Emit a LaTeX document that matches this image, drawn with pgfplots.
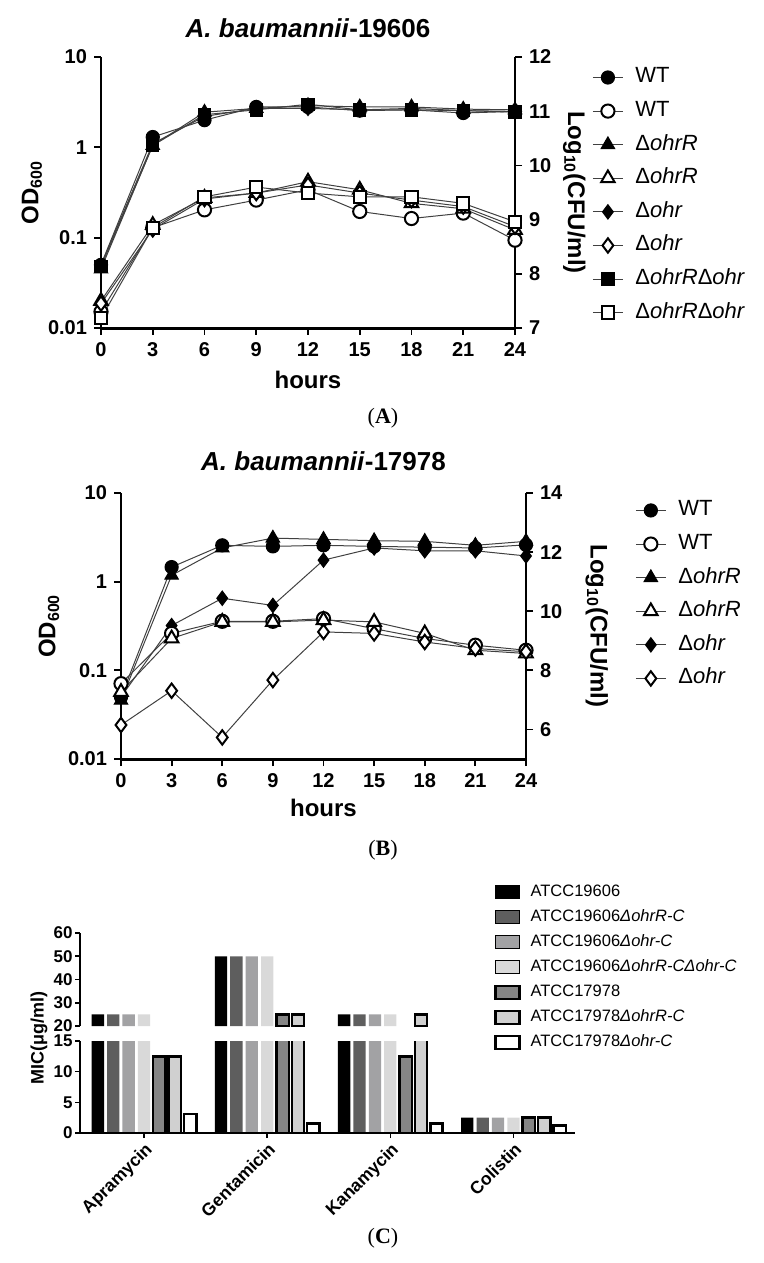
\documentclass[border=0pt]{standalone}
\usepackage{fontspec}
\setmainfont{Liberation Sans}
\newfontfamily\seriffont{Liberation Serif}
\usepackage{pgfplots}
\usepackage{pgfplotstable}
\pgfplotsset{compat=1.18}

\definecolor{barB}{HTML}{5E5E5E}
\definecolor{barC}{HTML}{A2A2A4}
\definecolor{barD}{HTML}{D9D9D9}
\definecolor{barE}{HTML}{858585}
\definecolor{barF}{HTML}{D0D0D0}
\definecolor{curve}{HTML}{404040}

\newcommand{\tickfont}{\fontsize{10}{12}\selectfont\bfseries}
\newcommand{\labfont}{\fontsize{12}{14}\selectfont\bfseries}
\newcommand{\legfont}{\fontsize{11}{13}\selectfont}

\pgfplotsset{
  growth/.style={
    scale only axis, clip=false,
    xmin=0, xmax=24,
    tick align=outside, major tick length=3.5pt,
    tick style={black, line width=0.9pt},
    axis line style={-},
    tick label style={font=\tickfont},
    xticklabel style={text height=7.3pt, text depth=0pt},
    /pgf/number format/assume math mode=true,
    label style={font=\labfont},
    every axis title/.style={anchor=center, font=\fontsize{13}{15}\selectfont\bfseries},
  },
  fm/.style={curve, line width=0.5pt, mark size=3.3pt, mark options={solid, fill=black, draw=black}},
  om/.style={curve, line width=0.5pt, mark size=3.3pt, mark options={solid, fill=white, draw=black, line width=1pt}},
  linelegend/.style={legend image code/.code={\draw[mark repeat=2,mark phase=2,##1] plot coordinates {(0pt,0pt) (7.5pt,0pt) (15pt,0pt)};}},
  barlegend/.style={legend image code/.code={\draw[##1] (0pt,-3.25pt) rectangle (12pt,3.25pt);}},
  growthlegend/.style={
    linelegend,
    legend style={draw=none, fill=none, anchor=north west, inner sep=0pt,
      font=\legfont, row sep=4.3pt, column sep=5pt,
      nodes={inner sep=1pt, text height=8pt, text depth=2.5pt}},
    legend cell align=left,
  },
  micaxis/.style={
    scale only axis, width=247.5pt,
    xmin=-0.52, xmax=3.5,
    ybar, bar width=0.1,
    axis on top,
    tick align=outside, major tick length=2.5pt,
    tick style={black, line width=0.8pt},
    axis line style={-},
    tick label style={font=\fontsize{8.5}{10}\selectfont\bfseries},
    yticklabel style={inner sep=1pt},
    /pgf/number format/assume math mode=true,
  },
  cA/.style={fill=black, draw=none, bar shift=-0.375},
  cB/.style={fill=barB, draw=none, bar shift=-0.25},
  cC/.style={fill=barC, draw=none, bar shift=-0.125},
  cD/.style={fill=barD, draw=none, bar shift=0},
  cE/.style={fill=barE, draw=black, line width=1.2pt, bar shift=0.125},
  cF/.style={fill=barF, draw=black, line width=1.2pt, bar shift=0.25},
  cG/.style={fill=white, draw=black, line width=1.2pt, bar shift=0.375},
}

% MIC values (ug/ml), one column per strain
\pgfplotstableread{
x  s1   s2   s3   s4   s5    s6    s7
0  25   25   25   25   12.5  12.5  3.125
1  50   50   50   50   25    25    1.5625
2  25   25   25   25   12.5  25    1.5625
3  2.5  2.5  2.5  2.5  2.5   2.5   1.25
}\mic

\begin{document}
\begin{tikzpicture}
\useasboundingbox (0pt,0pt) rectangle (382pt,-631.5pt);

% ---------------- (A) 19606 ----------------
\begin{axis}[growth,
  at={(50.5pt,-164pt)}, anchor=south west, width=207pt, height=135.5pt,
  ymode=log, ymin=0.01, ymax=10,
  ytick={0.01,0.1,1,10}, yticklabels={0.01,0.1,1,10}, yminorticks=false,
  xtick={0,3,...,24},
  axis x line*=bottom, axis y line*=left,
  x axis line style={line width=1.5pt}, y axis line style={line width=0.9pt},
  title={\textit{A. baumannii}-19606},
  title style={at={(axis description cs:0.5,1.105)}},
  xlabel={hours}, xlabel style={at={(axis description cs:0.5,-0.19)}, anchor=center},
  ylabel={OD\textsubscript{600}}, ylabel style={at={(axis description cs:-0.167,0.5)}, anchor=center},
]
\addplot[fm, mark=*] coordinates {(0,0.05) (3,1.3) (6,2.0) (9,2.8) (12,2.8) (15,2.55) (18,2.6) (21,2.4) (24,2.5)};
\addplot[fm, mark=triangle*, mark size=3.9pt] coordinates {(0,0.045) (3,1.05) (6,2.45) (9,2.7) (12,2.9) (15,2.8) (18,2.8) (21,2.65) (24,2.6)};
\addplot[fm, mark=diamond*, mark size=3.6pt] coordinates {(0,0.05) (3,1.1) (6,2.2) (9,2.7) (12,2.7) (15,2.6) (18,2.7) (21,2.55) (24,2.5)};
\addplot[fm, mark=square*, mark size=3.1pt] coordinates {(0,0.048) (3,1.05) (6,2.3) (9,2.6) (12,3.0) (15,2.6) (18,2.6) (21,2.55) (24,2.45)};
\end{axis}
\begin{axis}[growth, growthlegend,
  at={(50.5pt,-164pt)}, anchor=south west, width=207pt, height=135.5pt,
  ymin=7, ymax=12, ytick={7,8,...,12},
  axis x line=none, axis y line*=right,
  y axis line style={line width=0.9pt},
  ylabel={Log\textsubscript{10}(CFU/ml)},
  ylabel style={at={(axis description cs:1.143,0.5)}, anchor=center, rotate=180},
  legend style={at={(axis description cs:1.186,0.972)}},
]
\addplot[om, mark=*, forget plot] coordinates {(0,7.3) (3,8.85) (6,9.18) (9,9.36) (12,9.55) (15,9.15) (18,9.02) (21,9.12) (24,8.62)};
\addplot[om, mark=triangle*, mark size=3.9pt, forget plot] coordinates {(0,7.5) (3,8.9) (6,9.4) (9,9.49) (12,9.7) (15,9.55) (18,9.3) (21,9.2) (24,8.81)};
\addplot[om, mark=diamond*, mark size=3.6pt, forget plot] coordinates {(0,7.45) (3,8.82) (6,9.38) (9,9.49) (12,9.64) (15,9.49) (18,9.36) (21,9.24) (24,8.87)};
\addplot[om, mark=square*, mark size=3.1pt, forget plot] coordinates {(0,7.18) (3,8.85) (6,9.42) (9,9.6) (12,9.49) (15,9.42) (18,9.42) (21,9.3) (24,8.96)};
\addlegendimage{fm, mark=*}
\addlegendimage{om, mark=*}
\addlegendimage{fm, mark=triangle*, mark size=3.9pt}
\addlegendimage{om, mark=triangle*, mark size=3.9pt}
\addlegendimage{fm, mark=diamond*, mark size=3.6pt}
\addlegendimage{om, mark=diamond*, mark size=3.6pt}
\addlegendimage{fm, mark=square*, mark size=3.1pt}
\addlegendimage{om, mark=square*, mark size=3.1pt}
\legend{WT, WT, Δ\textit{ohrR}, Δ\textit{ohrR}, Δ\textit{ohr}, Δ\textit{ohr}, Δ\textit{ohrR}Δ\textit{ohr}, Δ\textit{ohrR}Δ\textit{ohr}}
\end{axis}

% ---------------- (B) 17978 ----------------
\begin{axis}[growth,
  at={(60.5pt,-379.5pt)}, anchor=south west, width=202.5pt, height=133pt,
  ymode=log, ymin=0.01, ymax=10,
  ytick={0.01,0.1,1,10}, yticklabels={0.01,0.1,1,10}, yminorticks=false,
  xtick={0,3,...,24},
  axis x line*=bottom, axis y line*=left,
  x axis line style={line width=1.5pt}, y axis line style={line width=1.3pt},
  title={\textit{A. baumannii}-17978},
  title style={at={(axis description cs:0.5,1.12)}},
  xlabel={hours}, xlabel style={at={(axis description cs:0.5,-0.184)}, anchor=center},
  ylabel={OD\textsubscript{600}}, ylabel style={at={(axis description cs:-0.178,0.5)}, anchor=center},
]
\addplot[fm, mark=*] coordinates {(0,0.05) (3,1.46) (6,2.57) (9,2.5) (12,2.57) (15,2.5) (18,2.45) (21,2.4) (24,2.6)};
\addplot[fm, mark=triangle*, mark size=3.9pt] coordinates {(0,0.046) (3,1.18) (6,2.4) (9,3.1) (12,3.0) (15,2.9) (18,2.85) (21,2.57) (24,2.85)};
\addplot[fm, mark=diamond*, mark size=3.6pt] coordinates {(0,0.05) (3,0.32) (6,0.65) (9,0.54) (12,1.75) (15,2.4) (18,2.23) (21,2.23) (24,1.95)};
\end{axis}
\begin{axis}[growth, growthlegend,
  at={(60.5pt,-379.5pt)}, anchor=south west, width=202.5pt, height=133pt,
  ymin=5, ymax=14, ytick={6,8,...,14},
  axis x line=none, axis y line*=right,
  y axis line style={line width=1.3pt},
  ylabel={Log\textsubscript{10}(CFU/ml)},
  ylabel style={at={(axis description cs:1.175,0.5)}, anchor=center, rotate=180},
  legend style={at={(axis description cs:1.269,0.983)}},
]
\addplot[om, mark=*, forget plot] coordinates {(0,7.55) (3,9.25) (6,9.66) (9,9.66) (12,9.75) (15,9.41) (18,9.08) (21,8.85) (24,8.68)};
\addplot[om, mark=triangle*, mark size=3.9pt, forget plot] coordinates {(0,7.27) (3,9.08) (6,9.64) (9,9.64) (12,9.7) (15,9.64) (18,9.25) (21,8.68) (24,8.57)};
\addplot[om, mark=diamond*, mark size=3.6pt, forget plot] coordinates {(0,6.15) (3,7.31) (6,5.73) (9,7.67) (12,9.3) (15,9.25) (18,8.96) (21,8.74) (24,8.63)};
\addlegendimage{fm, mark=*}
\addlegendimage{om, mark=*}
\addlegendimage{fm, mark=triangle*, mark size=3.9pt}
\addlegendimage{om, mark=triangle*, mark size=3.9pt}
\addlegendimage{fm, mark=diamond*, mark size=3.6pt}
\addlegendimage{om, mark=diamond*, mark size=3.6pt}
\legend{WT, WT, Δ\textit{ohrR}, Δ\textit{ohrR}, Δ\textit{ohr}, Δ\textit{ohr}}
\end{axis}

% ---------------- (C) MIC, broken y axis ----------------
\begin{axis}[micaxis,
  at={(40pt,-566.5pt)}, anchor=south west, height=46pt,
  ymin=0, ymax=15, ytick={0,5,10,15},
  axis x line*=bottom, axis y line*=left,
  x axis line style={line width=1.1pt}, y axis line style={line width=0.8pt},
  xtick={0,1,2,3}, xticklabels={Apramycin,Gentamicin,Kanamycin,Colistin},
  xticklabel style={rotate=45, anchor=north east, inner sep=1pt, font=\fontsize{8.8}{10}\selectfont\bfseries},
  ylabel={MIC(μg/ml)},
  ylabel style={at={(axis description cs:-0.083,1.03)}, anchor=center, font=\fontsize{9}{11}\selectfont\bfseries},
]
\addplot[cA] table[x=x, y=s1] {\mic};
\addplot[cB] table[x=x, y=s2] {\mic};
\addplot[cC] table[x=x, y=s3] {\mic};
\addplot[cD] table[x=x, y=s4] {\mic};
\addplot[cE] table[x=x, y=s5] {\mic};
\addplot[cF] table[x=x, y=s6] {\mic};
\addplot[cG] table[x=x, y=s7] {\mic};
\end{axis}
\begin{axis}[micaxis,
  at={(40pt,-513pt)}, anchor=south west, height=46.5pt,
  ymin=20, ymax=60, ytick={20,30,...,60},
  axis x line=none, axis y line*=left,
  y axis line style={line width=0.8pt},
  restrict y to domain=20:100,
  legend style={at={(axis description cs:0.836,1.548)}, anchor=north west,
    draw=none, fill=none, inner sep=0pt, row sep=2.7pt, column sep=4pt,
    font=\fontsize{8.25}{10}\selectfont,
    nodes={inner sep=1pt, text height=6pt, text depth=1.8pt}},
  legend cell align=left,
]
\addplot[cA, forget plot] table[x=x, y=s1] {\mic};
\addplot[cB, forget plot] table[x=x, y=s2] {\mic};
\addplot[cC, forget plot] table[x=x, y=s3] {\mic};
\addplot[cD, forget plot] table[x=x, y=s4] {\mic};
\addplot[cE, forget plot] table[x=x, y=s5] {\mic};
\addplot[cF, forget plot] table[x=x, y=s6] {\mic};
\addplot[cG, forget plot] table[x=x, y=s7] {\mic};
\addlegendimage{barlegend, fill=black, draw=none}
\addlegendimage{barlegend, fill=barB, draw=none}
\addlegendimage{barlegend, fill=barC, draw=none}
\addlegendimage{barlegend, fill=barD, draw=none}
\addlegendimage{barlegend, fill=barE, draw=black, line width=1.2pt}
\addlegendimage{barlegend, fill=barF, draw=black, line width=1.2pt}
\addlegendimage{barlegend, fill=white, draw=black, line width=1.2pt}
\legend{ATCC19606, ATCC19606\textit{ΔohrR-C}, ATCC19606\textit{Δohr-C}, ATCC19606\textit{ΔohrR-CΔohr-C}, ATCC17978, ATCC17978\textit{ΔohrR-C}, ATCC17978\textit{Δohr-C}}
\end{axis}

\node[font=\seriffont\fontsize{11}{13}\selectfont] at (191.5pt,-209pt) {(\textbf{A})};
\node[font=\seriffont\fontsize{11}{13}\selectfont] at (191.5pt,-425pt) {(\textbf{B})};
\node[font=\seriffont\fontsize{11}{13}\selectfont] at (191.5pt,-619pt) {(\textbf{C})};
\end{tikzpicture}
\end{document}
